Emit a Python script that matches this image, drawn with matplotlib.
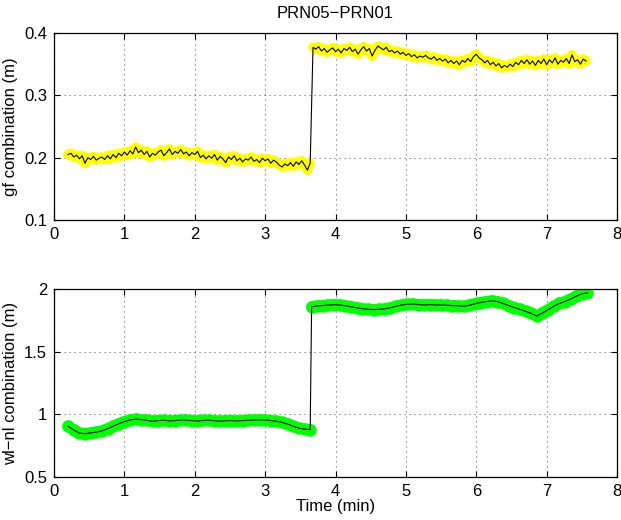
import matplotlib
matplotlib.use("Agg")
from matplotlib import pyplot as plt
import numpy as np

plt.rcParams['font.family'] = ['Liberation Sans', 'DejaVu Sans']

# gf combination (m), sampled every 0.04 min
gf_t0_a = 0.20
gf_a = [0.205, 0.207, 0.201, 0.204, 0.198, 0.203, 0.191, 0.200, 0.197, 0.202,
        0.196, 0.199, 0.201, 0.197, 0.203, 0.198, 0.205, 0.200, 0.207, 0.203,
        0.209, 0.204, 0.211, 0.206, 0.217, 0.208, 0.212, 0.205, 0.210, 0.201,
        0.207, 0.204, 0.209, 0.212, 0.203, 0.208, 0.214, 0.205, 0.210, 0.207,
        0.213, 0.206, 0.209, 0.203, 0.208, 0.205, 0.210, 0.200, 0.204, 0.198,
        0.203, 0.199, 0.205, 0.196, 0.202, 0.198, 0.192, 0.201, 0.197, 0.203,
        0.195, 0.199, 0.193, 0.198, 0.196, 0.201, 0.194, 0.197, 0.192, 0.199,
        0.195, 0.198, 0.191, 0.196, 0.193, 0.188, 0.185, 0.190, 0.187, 0.192,
        0.186, 0.193, 0.189, 0.195, 0.188, 0.180, 0.191]
gf_t0_b = 3.68
gf_b = [0.377, 0.374, 0.378, 0.371, 0.375, 0.369, 0.373, 0.376, 0.370, 0.374,
        0.368, 0.375, 0.372, 0.377, 0.370, 0.374, 0.366, 0.373, 0.378, 0.371,
        0.375, 0.363, 0.372, 0.379, 0.376, 0.373, 0.377, 0.370, 0.372, 0.368,
        0.371, 0.366, 0.369, 0.364, 0.367, 0.362, 0.365, 0.360, 0.363, 0.361,
        0.364, 0.360, 0.358, 0.362, 0.356, 0.359, 0.355, 0.358, 0.352, 0.356,
        0.351, 0.355, 0.349, 0.356, 0.353, 0.359, 0.354, 0.362, 0.366, 0.360,
        0.357, 0.352, 0.356, 0.349, 0.353, 0.347, 0.351, 0.344, 0.348, 0.345,
        0.350, 0.346, 0.353, 0.349, 0.356, 0.351, 0.357, 0.350, 0.355, 0.348,
        0.356, 0.351, 0.358, 0.349, 0.357, 0.352, 0.360, 0.350, 0.356, 0.353,
        0.359, 0.351, 0.365, 0.354, 0.357, 0.350, 0.358, 0.355]

# wl-nl combination (m), sampled every 0.08 min
wl_t0_a = 0.20
wl_a = [0.905, 0.875, 0.850, 0.845, 0.852, 0.858, 0.868, 0.885, 0.905, 0.925,
        0.942, 0.955, 0.962, 0.958, 0.952, 0.944, 0.950, 0.953, 0.948, 0.950,
        0.955, 0.952, 0.950, 0.948, 0.951, 0.953, 0.949, 0.946, 0.949, 0.950,
        0.948, 0.950, 0.952, 0.954, 0.956, 0.955, 0.950, 0.945, 0.935, 0.922,
        0.905, 0.890, 0.882, 0.878]
wl_t0_b = 3.66
wl_b = [1.858, 1.865, 1.868, 1.872, 1.875, 1.872, 1.866, 1.858, 1.850, 1.843,
        1.838, 1.836, 1.838, 1.842, 1.850, 1.862, 1.872, 1.878, 1.880, 1.876,
        1.873, 1.875, 1.874, 1.872, 1.870, 1.868, 1.866, 1.862, 1.870, 1.882,
        1.892, 1.900, 1.905, 1.900, 1.885, 1.868, 1.852, 1.838, 1.822, 1.805,
        1.785, 1.808, 1.835, 1.862, 1.885, 1.900, 1.920, 1.942, 1.962, 1.968]

tg_a = gf_t0_a + 0.04 * np.arange(len(gf_a))
tg_b = gf_t0_b + 0.04 * np.arange(len(gf_b))
tw_a = wl_t0_a + 0.08 * np.arange(len(wl_a))
tw_b = wl_t0_b + 0.08 * np.arange(len(wl_b))


def matlab_axes(ax):
    ax.tick_params(direction='in', top=True, right=True, labelsize=12,
                   length=4, width=0.8, pad=5)
    ax.grid(True, linestyle=(0, (1, 3.5)), color='k', linewidth=0.8, alpha=0.6)
    for s in ax.spines.values():
        s.set_linewidth(0.9)
    ax.set_xlim(0, 8)


fig = plt.figure(figsize=(6.21, 5.2), dpi=100)
ax1 = fig.add_axes([0.087, 0.577, 0.9066, 0.3596])
ax2 = fig.add_axes([0.087, 0.0827, 0.9066, 0.3615])

# top panel
for t, v in [(tg_a, gf_a), (tg_b, gf_b)]:
    ax1.plot(t, v, '-', color='#ffff00', lw=7, solid_capstyle='round', zorder=2)
    ax1.plot(t, v, 'o', color='#ffff00', ms=5, zorder=2)
ax1.plot(np.concatenate([tg_a, tg_b]), gf_a + gf_b, '-', color='k', lw=0.8, zorder=3)
ax1.set_ylim(0.1, 0.4)
ax1.set_yticks([0.1, 0.2, 0.3, 0.4])
ax1.set_xticks(range(0, 9))
ax1.set_ylabel('gf combination (m)', fontsize=12)
ax1.set_title('PRN05\u2212PRN01', fontsize=12, pad=11)
matlab_axes(ax1)

# bottom panel
for t, v in [(tw_a, wl_a), (tw_b, wl_b)]:
    ax2.plot(t, v, '-', color='#00ff00', lw=8, solid_capstyle='round', zorder=2)
    ax2.plot(t, v, 'o', color='#00ff00', ms=8, zorder=2)
ax2.plot(np.concatenate([tw_a, tw_b]), wl_a + wl_b, '-', color='k', lw=0.8, zorder=3)
ax2.set_ylim(0.5, 2)
ax2.set_yticks([0.5, 1, 1.5, 2])
ax2.set_yticklabels(['0.5', '1', '1.5', '2'])
ax2.set_xticks(range(0, 9))
ax2.set_ylabel('wl\u2212nl combination (m)', fontsize=12)
ax2.set_xlabel('Time (min)', fontsize=12, labelpad=0)
matlab_axes(ax2)

fig.savefig('out.png', dpi=100)
